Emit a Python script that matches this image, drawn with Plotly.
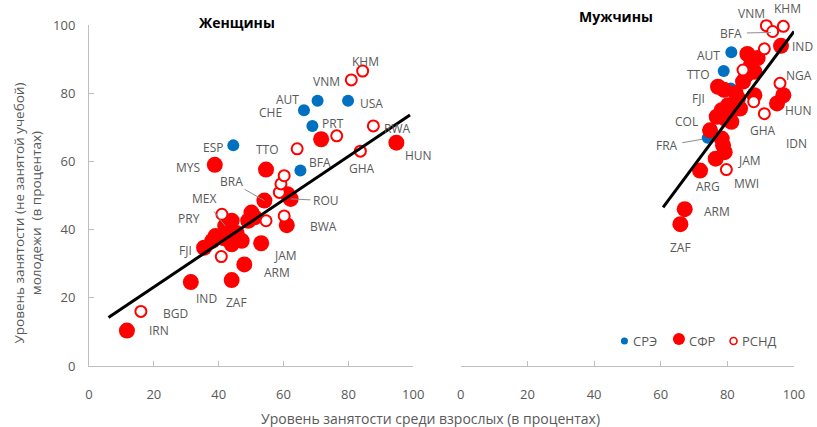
import plotly.graph_objects as go

# ---------------- DATA ----------------
# Women panel (x: adult employment rate, y: youth employment rate, not in education)
w_adv_x = [44.5, 66.3, 70.5, 79.9, 68.9, 65.2]
w_adv_y = [64.7, 75.0, 77.8, 77.8, 70.4, 57.3]

w_emg_x = [11.7, 31.4, 44.0, 47.9, 53.1, 35.5, 38.0, 39.0, 42.0, 44.0, 47.1, 44.0,
           49.1, 50.1, 51.1, 54.1, 61.2, 62.2, 61.0, 38.8, 54.6, 71.6, 94.8, 45.5, 41.5]
w_emg_y = [10.4, 24.6, 25.2, 29.8, 36.0, 34.7, 36.7, 38.1, 41.1, 42.6, 36.7, 35.7,
           42.6, 45.0, 43.6, 48.5, 50.4, 49.0, 41.3, 59.0, 57.6, 66.5, 65.5, 39.0, 37.5]

w_low_x = [16.0, 40.8, 41.0, 54.6, 60.2, 58.7, 59.2, 60.2, 64.2, 76.4, 83.7, 87.7, 80.9, 84.4]
w_low_y = [16.0, 32.1, 44.5, 42.6, 44.0, 50.9, 53.4, 55.8, 63.7, 67.5, 63.0, 70.4, 83.9, 86.5]

w_fit_x = [6.0, 99.0]
w_fit_y = [14.2, 73.6]

w_lab = ["KHM", "VNM", "AUT", "USA", "CHE", "PRT", "RWA", "HUN", "GHA", "ESP", "MYS", "TTO",
         "BFA", "PRY", "BWA", "FJI", "JAM", "ARM", "IND", "ZAF", "BGD", "IRN"]
w_lab_x = [85.2, 73.1, 61.2, 87.0, 56.0, 75.4, 95.1, 101.5, 84.2, 38.3, 30.4, 55.2,
           71.3, 30.7, 72.3, 29.9, 60.7, 58.0, 36.2, 45.4, 26.7, 21.6]
w_lab_y = [89.2, 83.4, 78.2, 77.0, 74.3, 71.1, 69.6, 61.7, 57.8, 64.0, 58.3, 63.5,
           59.8, 43.3, 40.8, 34.0, 32.4, 27.3, 19.7, 18.7, 15.5, 10.3]

# labels with leader lines: text, label x/y, pointed x/y
w_lead = ["BRA", "MEX", "ROU"]
w_lead_x = [43.8, 35.5, 73.1]
w_lead_y = [54.1, 49.0, 48.5]
w_lead_px = [54.1, 42.0, 62.2]
w_lead_py = [48.5, 41.1, 49.0]

# Men panel
m_adv_x = [81.2, 78.9, 81.0, 74.1]
m_adv_y = [92.0, 86.5, 81.4, 66.9]

m_emg_x = [96.1, 89.1, 87.1, 88.1, 85.7, 84.7, 77.2, 79.0, 88.1, 83.2, 80.2, 78.3, 81.8,
           83.8, 76.8, 79.2, 81.2, 74.8, 78.3, 78.7, 79.2, 76.5, 71.8, 67.2, 65.9,
           96.8, 94.9, 86.0, 82.5]
m_emg_y = [93.9, 90.3, 88.3, 86.3, 85.3, 83.4, 81.9, 81.0, 79.4, 78.5, 76.5, 75.0, 75.5,
           75.5, 73.1, 72.6, 71.6, 69.1, 66.7, 64.7, 62.7, 60.8, 57.3, 46.0, 41.6,
           79.4, 77.0, 91.5, 80.0]

m_low_x = [96.8, 91.7, 93.6, 91.1, 84.7, 95.8, 87.9, 91.1, 79.7]
m_low_y = [99.6, 99.8, 98.1, 93.0, 86.8, 82.9, 77.5, 74.0, 57.6]

m_fit_x = [60.7, 100.0]
m_fit_y = [46.5, 98.1]

m_lab = ["VNM", "KHM", "IND", "AUT", "TTO", "NGA", "FJI", "HUN", "COL", "GHA", "IDN",
         "JAM", "ARG", "MWI", "ARM", "ZAF"]
m_lab_x = [87.1, 98.0, 102.5, 74.3, 71.3, 101.5, 71.3, 101.5, 67.7, 90.6, 100.9,
           86.6, 74.1, 85.7, 76.8, 65.9]
m_lab_y = [103.5, 104.9, 93.7, 91.2, 85.5, 85.2, 78.5, 75.0, 71.6, 69.1, 65.3,
           60.3, 52.7, 53.4, 45.2, 34.7]

m_lead = ["BFA", "FRA"]
m_lead_x = [81.2, 61.9]
m_lead_y = [97.6, 64.7]
m_lead_px = [93.1, 72.5]
m_lead_py = [97.8, 66.5]

legend_names = ["СРЭ", "СФР", "РСНД"]

# ---------------- STYLE ----------------
BLUE = "#0070C0"
RED = "#FF0000"
TXT = "#595959"
FONT = "Open Sans"
AX_MAX = 100.0

fig = go.Figure()

def add_panel(xa, ya, adv_x, adv_y, emg_x, emg_y, low_x, low_y, fx, fy):
    fig.add_trace(go.Scatter(x=adv_x, y=adv_y, mode="markers", name=legend_names[0], xaxis=xa, yaxis=ya,
                             marker=dict(color=BLUE, size=12), cliponaxis=False))
    fig.add_trace(go.Scatter(x=emg_x, y=emg_y, mode="markers", name=legend_names[1], xaxis=xa, yaxis=ya,
                             marker=dict(color=RED, size=16), cliponaxis=False))
    fig.add_trace(go.Scatter(x=low_x, y=low_y, mode="markers", name=legend_names[2], xaxis=xa, yaxis=ya,
                             marker=dict(color="white", size=11, line=dict(color=RED, width=2)),
                             cliponaxis=False))
    fig.add_trace(go.Scatter(x=fx, y=fy, mode="lines", xaxis=xa, yaxis=ya,
                             line=dict(color="black", width=3), hoverinfo="skip"))

add_panel("x", "y", w_adv_x, w_adv_y, w_emg_x, w_emg_y, w_low_x, w_low_y, w_fit_x, w_fit_y)
add_panel("x2", "y2", m_adv_x, m_adv_y, m_emg_x, m_emg_y, m_low_x, m_low_y, m_fit_x, m_fit_y)

ann = []
lab_font = dict(family=FONT, size=12, color=TXT)

def labels(texts, xs, ys, xa):
    # axis-domain references keep labels visible even slightly outside the 0-100 range
    for t, x, y in zip(texts, xs, ys):
        ann.append(dict(x=x / AX_MAX, y=y / AX_MAX, xref=xa + " domain", yref="y domain",
                        xanchor="center", yanchor="middle",
                        text=t, showarrow=False, font=lab_font))

labels(w_lab, w_lab_x, w_lab_y, "x")
labels(m_lab, m_lab_x, m_lab_y, "x2")

def leaders(texts, lx, ly, px, py, xr, yr):
    for t, x, y, ax_, ay_ in zip(texts, lx, ly, px, py):
        ann.append(dict(x=ax_, y=ay_, xref=xr, yref=yr, ax=x, ay=y, axref=xr, ayref=yr,
                        text="", showarrow=True, arrowhead=0, arrowwidth=1, arrowcolor="#8C8C8C",
                        standoff=0, startstandoff=14))
        ann.append(dict(x=x, y=y, xref=xr, yref=yr, text=t, showarrow=False, font=lab_font,
                        xanchor="center", yanchor="middle"))

leaders(w_lead, w_lead_x, w_lead_y, w_lead_px, w_lead_py, "x", "y")
leaders(m_lead, m_lead_x, m_lead_y, m_lead_px, m_lead_py, "x2", "y2")

title_font = dict(family=FONT, size=14, color="black")
ann.append(dict(x=0.2096, y=1.006, xref="paper", yref="paper", text="<b>Женщины</b>",
                xanchor="center", yanchor="middle", showarrow=False, font=title_font))
ann.append(dict(x=0.7482, y=1.026, xref="paper", yref="paper", text="<b>Мужчины</b>",
                xanchor="center", yanchor="middle", showarrow=False, font=title_font))
ann.append(dict(x=-0.087, y=0.449, xref="paper", yref="paper", textangle=-90, showarrow=False,
                xanchor="center", yanchor="middle",
                text="Уровень занятости (не занятой учебой)<br>молодежи  (в процентах)",
                font=dict(family=FONT, size=13.5, color=TXT)))
ann.append(dict(x=0.4838, y=-0.1525, xref="paper", yref="paper", showarrow=False,
                xanchor="center", yanchor="middle",
                text="Уровень занятости среди взрослых (в процентах)",
                font=dict(family=FONT, size=14, color=TXT)))

# custom compact legend
leg_font = dict(family=FONT, size=13, color=TXT)
leg_items = [  # (symbol x, symbol y, text x, diameter, fill, stroke, stroke width)
    (0.7595, 0.0733, 0.7693, 7, BLUE, BLUE, 0),
    (0.8368, 0.0792, 0.8481, 12, RED, RED, 0),
    (0.9142, 0.0733, 0.9241, 7, "white", RED, 1.6),
]
shapes = []
for name, (sx, sy, tx, d, fill, stroke, lw) in zip(legend_names, leg_items):
    shapes.append(dict(type="circle", xref="paper", yref="paper", xsizemode="pixel", ysizemode="pixel",
                       xanchor=sx, yanchor=sy, x0=-d / 2, x1=d / 2, y0=-d / 2, y1=d / 2,
                       fillcolor=fill, line=dict(color=stroke, width=lw)))
    ann.append(dict(x=tx, y=0.0733, xref="paper", yref="paper", xanchor="left", yanchor="middle",
                    text=name, showarrow=False, font=leg_font))

fig.update_layout(annotations=ann, shapes=shapes)

axis_common = dict(range=[0, 100], dtick=20, showgrid=False, zeroline=False,
                   showline=True, linecolor="#BFBFBF", linewidth=1,
                   ticks="inside", ticklen=5, tickcolor="#BFBFBF",
                   tickfont=dict(family=FONT, size=13, color=TXT))

fig.update_layout(
    width=817, height=427,
    margin=dict(l=89, r=17, t=25, b=61),
    paper_bgcolor="white", plot_bgcolor="white",
    xaxis=dict(domain=[0, 0.4599], anchor="y", ticklabelstandoff=16, **axis_common),
    yaxis=dict(domain=[0, 1], anchor="x", ticklabelstandoff=10, **axis_common),
    xaxis2=dict(domain=[0.5274, 1], anchor="y2", ticklabelstandoff=16, **axis_common),
    yaxis2=dict(domain=[0, 1], anchor="x2", range=[0, 100], showline=False, showgrid=False,
                zeroline=False, showticklabels=False, ticks=""),
    showlegend=False,
)

# remove the browser's default 8px body margin so the figure fills the window exactly
fig.write_html("out.html", config={"displayModeBar": False},
               post_script="document.body.style.margin='0';document.body.style.overflow='hidden';")
